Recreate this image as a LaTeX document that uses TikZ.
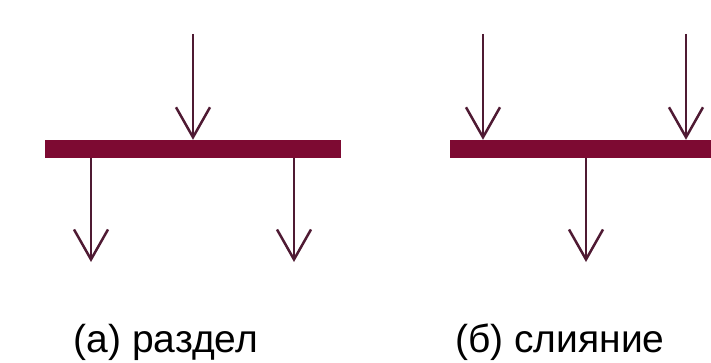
\documentclass[tikz,border=0pt]{standalone}
\usepackage{fontspec}
\setmainfont{Liberation Sans}
\usetikzlibrary{arrows.meta}
\definecolor{barcol}{HTML}{7D0A32}
\definecolor{linecol}{HTML}{4F1A33}
\tikzset{
  barbox/.style={fill=barcol, draw=none, inner sep=0pt, minimum height=18pt},
  flow/.style={draw=linecol, line width=2.5pt, -{Straight Barb[length=30pt,width=34pt]}},
  caption/.style={anchor=base, inner sep=0pt, font=\fontsize{39}{42}\selectfont}
}
\begin{document}
\begin{tikzpicture}[x=1pt,y=-1pt]
\useasboundingbox (0,0) rectangle (711,363);
% (a) split
\node[barbox, minimum width=296pt] (barA) at (193,149) {};
\coordinate (inA) at (193,34);
\coordinate (outA1) at (91,262);
\coordinate (outA2) at (294,262);
\draw[flow] (inA) -- (inA |- barA.north);
\draw[flow] (outA1 |- barA.south) -- (outA1);
\draw[flow] (outA2 |- barA.south) -- (outA2);
\node[caption] (capA) at (166,352) {(а) раздел};
% (b) merge
\node[barbox, minimum width=262pt] (barB) at (581,149) {};
\coordinate (inB1) at (483,34);
\coordinate (inB2) at (686,34);
\coordinate (outB) at (586,262);
\draw[flow] (inB1) -- (inB1 |- barB.north);
\draw[flow] (inB2) -- (inB2 |- barB.north);
\draw[flow] (outB |- barB.south) -- (outB);
\node[caption] (capB) at (560,352) {(б) слияние};
\end{tikzpicture}
\end{document}
